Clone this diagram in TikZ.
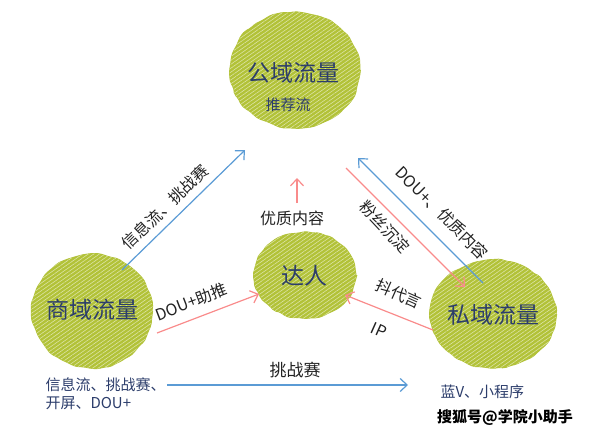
\documentclass[tikz,border=0pt]{standalone}
\usepackage{fontspec}
\setmainfont{Noto Sans CJK SC}
\usetikzlibrary{arrows.meta,shapes.geometric,patterns.meta,decorations.pathmorphing}
\definecolor{blobgreen}{HTML}{B2C238}
\definecolor{inkblue}{HTML}{2C3D6B}
\definecolor{arrblue}{HTML}{5B9BD5}
\definecolor{arrred}{HTML}{F98B8B}
\definecolor{lbltext}{HTML}{222222}
\tikzset{
  blob/.style={ellipse, inner sep=0pt, fill=blobgreen, draw=blobgreen, line width=1pt,
    decoration={random steps,segment length=6pt,amplitude=1pt}, decorate, rounded corners=2pt,
    postaction={pattern={Lines[angle=35,distance=3.2pt,line width=0.6pt]}, pattern color=white!55!blobgreen}},
  bigtxt/.style={text=inkblue, font=\fontsize{23}{27}\selectfont},
  subtxt/.style={text=inkblue, font=\fontsize{15}{18}\selectfont},
  lbl/.style={text=lbltext, font=\fontsize{16}{19}\selectfont, inner sep=1pt},
  bluearr/.style={draw=arrblue, line width=1.2pt, -{Straight Barb[length=7pt,width=13pt]}},
  redarr/.style={draw=arrred, line width=1.2pt, -{Straight Barb[length=7pt,width=13pt]}}
}
\begin{document}
\begin{tikzpicture}[x=1pt,y=-1pt]
\useasboundingbox (0,0) rectangle (591,433);
\pgfmathsetseed{7}
\node [blob, minimum width=130, minimum height=116] (gong) at (295,70) {};
\node [blob, minimum width=120, minimum height=114] (shang) at (92,311) {};
\node [blob, minimum width=102, minimum height=86] (daren) at (305,275) {};
\node [blob, minimum width=126, minimum height=108] (si) at (493,314) {};
\node [bigtxt] (gongt) at (293,73) {公域流量};
\node [bigtxt, font=\fontsize{15}{18}\selectfont] (tuijian) at (288,105) {推荐流};
\node [bigtxt] (shangt) at (92,310) {商域流量};
\node [bigtxt] (darent) at (304,276) {达人};
\node [bigtxt] (sit) at (493,315) {私域流量};
\coordinate (b1s) at (122,270); \coordinate (b1e) at (245,150);
\coordinate (b2s) at (483,283); \coordinate (b2e) at (358,158);
\coordinate (b3s) at (167,385); \coordinate (b3e) at (408,385);
\coordinate (r1s) at (157,333); \coordinate (r1e) at (259,294);
\coordinate (r2s) at (297,203); \coordinate (r2e) at (297,178);
\coordinate (r3s) at (433,330); \coordinate (r3e) at (345,295);
\coordinate (r4s) at (346,168); \coordinate (r4e) at (465,287);
\draw [bluearr] (b1s) -- (b1e);
\draw [bluearr] (b2s) -- (b2e);
\draw [bluearr] (b3s) -- (b3e);
\draw [redarr] (r1s) -- (r1e);
\draw [redarr] (r2s) -- (r2e);
\draw [redarr] (r3s) -- (r3e);
\draw [redarr] (r4s) -- (r4e);
\node [lbl, rotate=44] (xinxi) at (165,207) {信息流、挑战赛};
\node [lbl, rotate=21] (zhutui) at (191,302) {DOU+助推};
\node [lbl] (youzhi) at (292,218) {优质内容};
\node [lbl, rotate=-47] (fensi) at (385,227) {粉丝沉淀};
\node [lbl, rotate=-45] (douyz) at (442,213) {DOU+、优质内容};
\node [lbl, rotate=-24] (daiyan) at (399,294) {抖代言};
\node [lbl, rotate=-24] (ip) at (379,330) {IP};
\node [lbl, font=\fontsize{17}{20}\selectfont] (tiaozhan) at (295,370) {挑战赛};
\node [subtxt, anchor=west, align=left] (shangsub) at (42,394) {信息流、挑战赛、\\开屏、DOU+};
\node [subtxt, anchor=west] (sisub) at (437,392) {蓝V、小程序};
\node [lbl, anchor=west, font=\fontsize{15}{18}\selectfont\bfseries, text=black] (mark) at (436,417) {搜狐号@学院小助手};
\end{tikzpicture}
\end{document}
